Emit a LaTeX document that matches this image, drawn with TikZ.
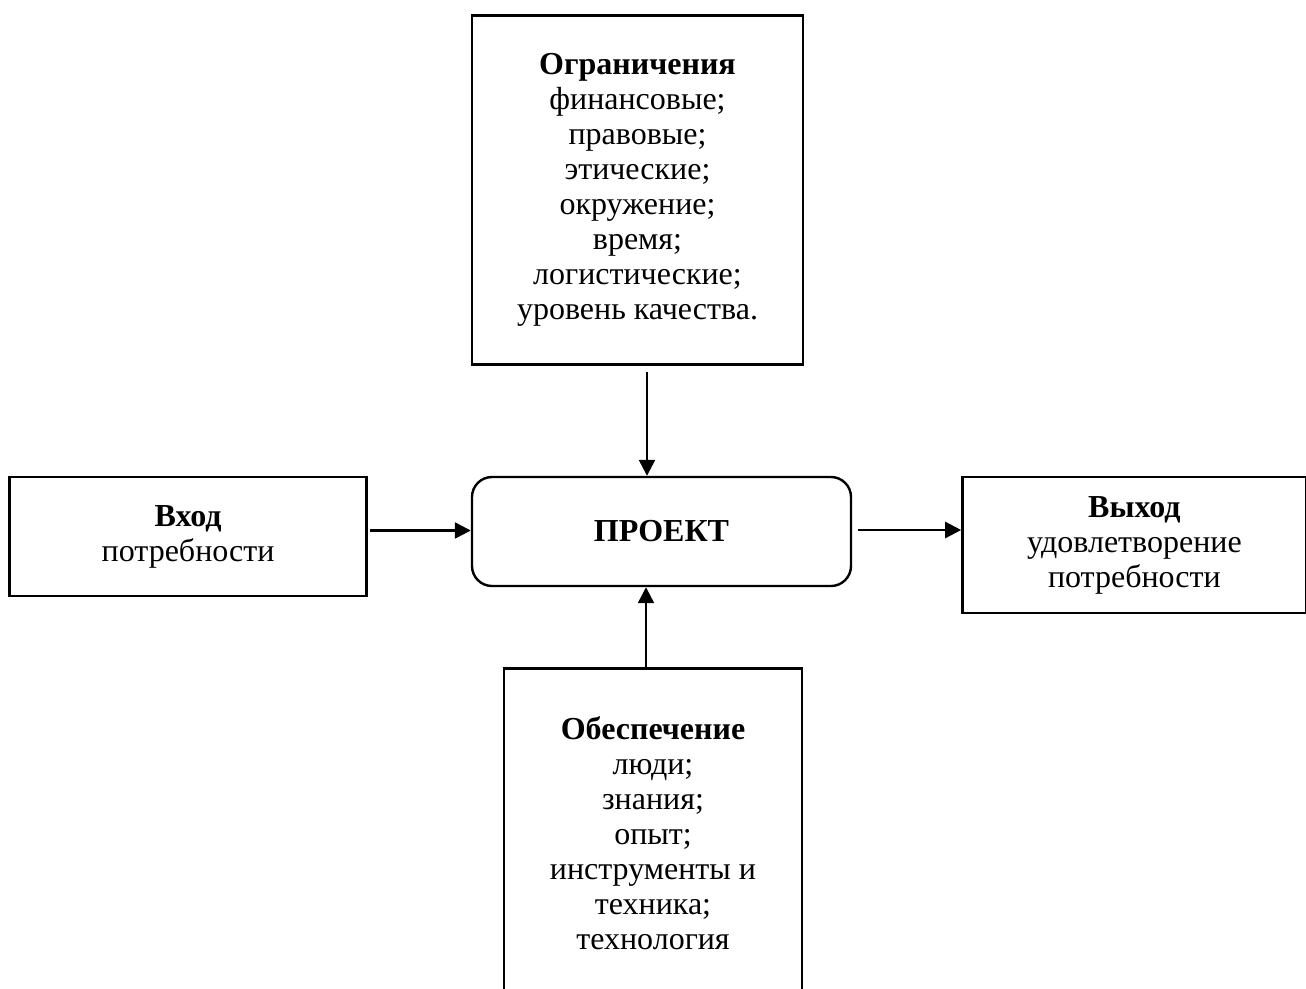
\documentclass[tikz,border=0pt]{standalone}
\usepackage{fontspec}
\setmainfont{Liberation Serif}
\usetikzlibrary{arrows.meta, positioning}
\tikzset{
    box/.style={draw=black, line width=2.4pt, fill=white, align=center, inner sep=0pt,
                font=\fontsize{32pt}{35pt}\selectfont},
    pbox/.style={box, rounded corners=20pt},
    arrow/.style={-{Triangle[length=16pt, width=16pt]}, line width=2.4pt}
}

\begin{document}
\begin{tikzpicture}[x=1pt, y=1pt]
        \path[use as bounding box, clip] (0,0) rectangle (1306,-988);
        \node [pbox, minimum width=379pt, minimum height=109pt] (project) at (661.5,-531.5) {\textbf{ПРОЕКТ}};
        \node [box, above=110pt of project, xshift=-24pt, minimum width=331pt, minimum height=349pt] (limits)
            {\textbf{Ограничения}\\финансовые;\\правовые;\\этические;\\окружение;\\время;\\логистические;\\уровень качества.};
        \node [box, left=103pt of project, yshift=-5pt, minimum width=357pt, minimum height=119pt] (input)
            {\textbf{Вход}\\потребности};
        \node [box, right=109pt of project, yshift=-13.5pt, minimum width=344pt, minimum height=136pt] (output)
            {\textbf{Выход}\\удовлетворение\\потребности};
        \node [box, below=80pt of project, xshift=-8.5pt, minimum width=298pt, minimum height=330pt] (resources)
            {\textbf{Обеспечение}\\люди;\\знания;\\опыт;\\инструменты и\\техника;\\технология};
        \draw [arrow] ([xshift=9.5pt, yshift=-6pt]limits.south) -- ([xshift=9.5pt]limits.south |- project.north);
        \draw [arrow] ([xshift=-7pt]resources.north) -- ([xshift=-7pt]resources.north |- project.south);
        \draw [arrow] ([xshift=2pt, yshift=6pt]input.east) -- ([yshift=6pt]input.east -| project.west);
        \draw [arrow] ([xshift=6pt, yshift=15pt]output.west -| project.east) -- ([yshift=15pt]output.west);
    \end{tikzpicture}
\end{document}
